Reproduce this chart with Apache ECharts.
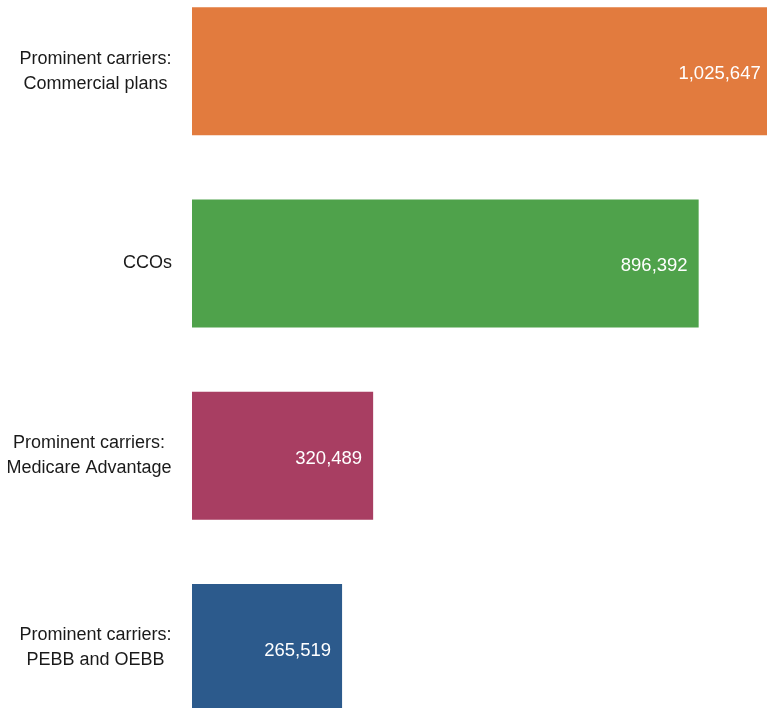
<!DOCTYPE html>
<html>
<head>
<meta charset="utf-8">
<script src="https://cdn.jsdelivr.net/npm/echarts@6/dist/echarts.min.js"></script>
<style>html,body{margin:0;padding:0;background:#fff;}#c{width:767px;height:708px;}</style>
</head>
<body>
<div id="c"></div>
<script>
const categories = ["Prominent carriers:\nCommercial plans", "CCOs", "Prominent carriers:\nMedicare Advantage", "Prominent carriers:\nPEBB and OEBB"];
const values = [1025647, 896392, 320489, 265519];
const colors = ["#E27B3E", "#4FA24B", "#A83E62", "#2C5A8C"];

const FONT = "'Liberation Sans', Arial, sans-serif";
const CAT_SIZE = 18;
const ctx = document.createElement('canvas').getContext('2d');
ctx.font = CAT_SIZE + "px " + FONT;

const rich = {};
categories.forEach(function (c, i) {
  const w = Math.max.apply(null, c.split('\n').map(function (l) { return ctx.measureText(l).width; }));
  rich['m' + i] = {fontFamily: FONT, fontSize: CAT_SIZE, color: '#1a1a1a', lineHeight: 25, align: 'center', width: Math.ceil(w)};
});

const chart = echarts.init(document.getElementById('c'), null, {renderer: 'canvas'});
chart.setOption({
  backgroundColor: '#ffffff',
  animation: false,
  grid: {left: 192, right: -10, top: -25, height: 769, containLabel: false, outerBoundsMode: 'none'},
  xAxis: {type: 'value', min: 0, max: 1035000, show: false},
  yAxis: {
    type: 'category', data: categories, inverse: true,
    axisLine: {show: false}, axisTick: {show: false},
    axisLabel: {
      margin: 20,
      formatter: function (v, idx) {
        return v.split('\n').map(function (l) { return '{m' + idx + '|' + l + '}'; }).join('\n');
      },
      rich: rich
    }
  },
  series: [{
    type: 'bar',
    barWidth: 128,
    clip: false,
    data: values.map(function (v, i) { return {value: v, itemStyle: {color: colors[i]}}; }),
    label: {
      show: true, position: 'insideRight', distance: 11, offset: [0, 3],
      color: '#ffffff', fontFamily: FONT, fontSize: 18.5,
      formatter: function (p) { return p.value.toLocaleString('en-US'); }
    }
  }]
});
</script>
</body>
</html>
